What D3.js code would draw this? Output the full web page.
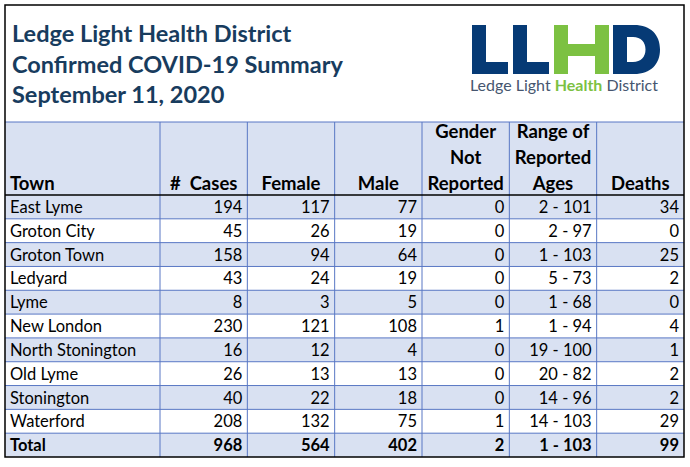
<!DOCTYPE html>
<html>
<head>
<meta charset="utf-8">
<script src="https://cdn.jsdelivr.net/npm/d3@7"></script>
<style>
  html, body { margin: 0; padding: 0; background: #fff; }
  svg { display: block; }
  text { white-space: pre; }
</style>
</head>
<body>
<div id="chart"></div>
<script>
// ---- data ----
const titleLines = ['Ledge Light Health District', 'Confirmed COVID-19 Summary', 'September 11, 2020']
const headers = [['Town'], ['#  Cases'], ['Female'], ['Male'], ['Gender', 'Not', 'Reported'], ['Range of', 'Reported', 'Ages'], ['Deaths']]
const towns = ['East Lyme', 'Groton City', 'Groton Town', 'Ledyard', 'Lyme', 'New London', 'North Stonington', 'Old Lyme', 'Stonington', 'Waterford', 'Total']
const cases = [194, 45, 158, 43, 8, 230, 16, 26, 40, 208, 968]
const female = [117, 26, 94, 24, 3, 121, 12, 13, 22, 132, 564]
const male = [77, 19, 64, 19, 5, 108, 4, 13, 18, 75, 402]
const genderNotReported = [0, 0, 0, 0, 0, 1, 0, 0, 0, 1, 2]
const ageRange = ['2 - 101', '2 - 97', '1 - 103', '5 - 73', '1 - 68', '1 - 94', '19 - 100', '20 - 82', '14 - 96', '14 - 103', '1 - 103']
const deaths = [34, 0, 25, 2, 0, 4, 1, 2, 2, 29, 99]

const W = 690, H = 467
const FONT = 'Lato, "Open Sans", sans-serif'
const frame = { left: 5, right: 684, top: 5, bottom: 457 }
const headTop = 122, headBottom = 195
const firstColRight = 160

const GRID = '#5877c4'
const BAND = '#d9e1f2'
const TITLE = '#183c5e'

const svg = d3.select('#chart').append('svg')
  .attr('width', W).attr('height', H)
  .attr('viewBox', `0 0 ${W} ${H}`)

svg.append('rect').attr('width', W).attr('height', H).attr('fill', '#fff')

// ---- scales ----
const colKeys = headers.map((d, i) => i)
const colScale = d3.scaleBand()
  .domain(colKeys.slice(1))
  .range([firstColRight, frame.right])
const colLeft = i => i === 0 ? frame.left : colScale(i)
const colRight = i => i === 0 ? firstColRight : colScale(i) + colScale.bandwidth()

const rowScale = d3.scaleBand()
  .domain(towns)
  .range([headBottom, frame.bottom])

// ---- title ----
svg.append('g').selectAll('text')
  .data(titleLines)
  .join('text')
  .attr('x', 12)
  .attr('y', (d, i) => 42 + i * 30.5)
  .attr('fill', TITLE)
  .attr('font-family', FONT)
  .attr('font-weight', 'bold')
  .attr('font-size', '23.5px')
  .text(d => d)

// ---- logo ----
const logo = svg.append('g').attr('class', 'logo')
const NAVY = '#063a75', GREEN = '#7cc142'
const lTop = 25, lBot = 74, stem = 14, bar = 12
function letterL(x0, w) {
  return `M${x0},${lTop}h${stem}v${lBot - lTop - bar}h${w - stem}v${bar}h${-w}Z`
}
logo.append('path').attr('d', letterL(472, 36)).attr('fill', NAVY)
logo.append('path').attr('d', letterL(513, 36)).attr('fill', NAVY)
logo.append('path')
  .attr('d', `M554,${lTop}h${stem}v19h27v-19h${stem}v${lBot - lTop}h${-stem}v-18h-27v18h${-stem}Z`)
  .attr('fill', GREEN)
logo.append('path')
  .attr('d', `M613,${lTop}h21c17,0 26,10 26,24.5c0,14.5 -9,24.5 -26,24.5h-21Z M627,37v25h6c8,0 12.5,-5 12.5,-12.5c0,-7.5 -4.5,-12.5 -12.5,-12.5Z`)
  .attr('fill', NAVY)
  .attr('fill-rule', 'evenodd')
const tag = logo.append('text')
  .attr('x', 470).attr('y', 91)
  .attr('font-family', FONT)
  .attr('font-size', '16px')
  .attr('fill', '#46566f')
  .attr('textLength', 188)
  .attr('lengthAdjust', 'spacingAndGlyphs')
tag.append('tspan').text('Ledge Light ')
tag.append('tspan').attr('fill', GREEN).attr('font-weight', 'bold').text('Health')
tag.append('tspan').text(' District')

// ---- header band + row bands ----
svg.append('rect')
  .attr('x', frame.left).attr('y', headTop)
  .attr('width', frame.right - frame.left).attr('height', headBottom - headTop)
  .attr('fill', BAND)

svg.append('g').selectAll('rect')
  .data(towns)
  .join('rect')
  .attr('x', frame.left)
  .attr('y', d => rowScale(d))
  .attr('width', frame.right - frame.left)
  .attr('height', rowScale.bandwidth())
  .attr('fill', (d, i) => i % 2 === 0 ? BAND : '#fff')

// ---- grid ----
const grid = svg.append('g').attr('stroke', GRID).attr('stroke-width', 1)
grid.selectAll('line.v')
  .data(colKeys.slice(1))
  .join('line')
  .attr('class', 'v')
  .attr('x1', d => colLeft(d)).attr('x2', d => colLeft(d))
  .attr('y1', headTop).attr('y2', frame.bottom)
grid.selectAll('line.h')
  .data(towns.slice(1))
  .join('line')
  .attr('class', 'h')
  .attr('x1', frame.left).attr('x2', frame.right)
  .attr('y1', d => rowScale(d)).attr('y2', d => rowScale(d))
grid.append('line')
  .attr('x1', frame.left).attr('x2', frame.right)
  .attr('y1', headTop).attr('y2', headTop)

svg.append('line')
  .attr('x1', frame.left).attr('x2', frame.right)
  .attr('y1', headBottom).attr('y2', headBottom)
  .attr('stroke', '#000').attr('stroke-width', 1.6)

svg.append('rect')
  .attr('x', frame.left).attr('y', frame.top)
  .attr('width', frame.right - frame.left).attr('height', frame.bottom - frame.top)
  .attr('fill', 'none').attr('stroke', '#000').attr('stroke-width', 1.5)

// ---- header text ----
const headG = svg.append('g')
  .attr('font-family', FONT).attr('font-weight', 'bold')
  .attr('font-size', '18.5px').attr('fill', '#000')
headers.forEach((lines, c) => {
  const n = lines.length
  headG.selectAll(null)
    .data(lines)
    .join('text')
    .attr('x', c === 0 ? colLeft(c) + 5 : (colLeft(c) + colRight(c)) / 2)
    .attr('y', (d, i) => 189.5 - (n - 1 - i) * 26)
    .attr('text-anchor', c === 0 ? 'start' : 'middle')
    .text(d => d)
})

// ---- body text ----
const columns = [towns, cases, female, male, genderNotReported, ageRange, deaths]
const body = svg.append('g')
  .attr('font-family', FONT).attr('font-size', '16.5px').attr('fill', '#000')
columns.forEach((vals, c) => {
  body.selectAll(null)
    .data(vals)
    .join('text')
    .attr('x', c === 0 ? colLeft(c) + 5 : colRight(c) - 5)
    .attr('y', (d, i) => rowScale(towns[i]) + 18)
    .attr('text-anchor', c === 0 ? 'start' : 'end')
    .attr('font-weight', (d, i) => towns[i] === 'Total' ? 'bold' : 'normal')
    .text(d => d)
})
</script>
</body>
</html>
